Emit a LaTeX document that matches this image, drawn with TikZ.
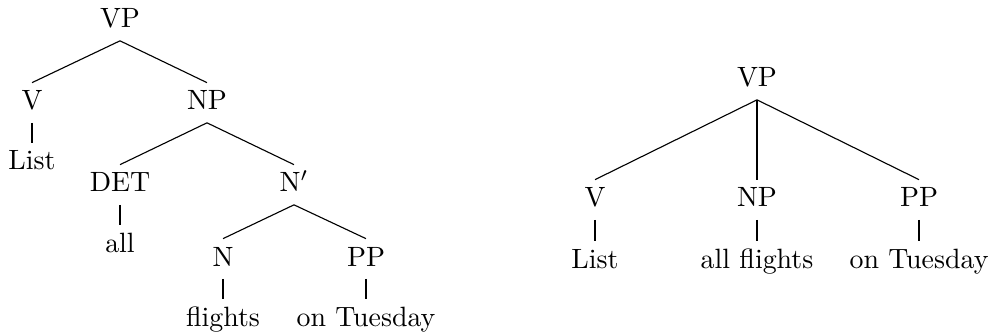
\documentclass[tikz,border=0pt]{standalone}
\begin{document}
\begin{tikzpicture}[x=0.3584pt,y=-0.3584pt,
  lbl/.style={anchor=base,inner xsep=0pt,inner ysep=2.6pt,text height=7pt,text depth=1.8pt,font=\fontsize{10}{12}\selectfont},
  edge/.style={line width=0.4pt}]
\useasboundingbox (0,0) rectangle (993,333);
% left tree
\node[lbl] (lVP) at (120,28) {VP};
\node[lbl] (lV) at (32,110) {V};
\node[lbl] (lNP) at (207,110) {NP};
\node[lbl] (lList) at (32,170) {List};
\node[lbl] (lDET) at (120,192) {DET};
\node[lbl] (lNb) at (294,192) {N$'$};
\node[lbl] (lall) at (120,252) {all};
\node[lbl] (lN) at (223,266) {N};
\node[lbl] (lPP) at (366,266) {PP};
\node[lbl] (lfl) at (223,326) {flights};
\node[lbl] (lonT) at (366,326) {on Tuesday};
\draw[edge] (lVP.south) -- (lV.north);
\draw[edge] (lVP.south) -- (lNP.north);
\draw[edge] (lV.south) -- (lList.north);
\draw[edge] (lNP.south) -- (lDET.north);
\draw[edge] (lNP.south) -- (lNb.north);
\draw[edge] (lDET.south) -- (lall.north);
\draw[edge] (lNb.south) -- (lN.north);
\draw[edge] (lNb.south) -- (lPP.north);
\draw[edge] (lN.south) -- (lfl.north);
\draw[edge] (lPP.south) -- (lonT.north);
% right tree
\node[lbl] (rVP) at (757,87) {VP};
\node[lbl] (rV) at (595,207) {V};
\node[lbl] (rNP) at (757,207) {NP};
\node[lbl] (rPP) at (919,207) {PP};
\node[lbl] (rList) at (595,268) {List};
\node[lbl] (rall) at (757,268) {all flights};
\node[lbl] (ronT) at (919,268) {on Tuesday};
\draw[edge] (rVP.south) -- (rV.north);
\draw[edge] (rVP.south) -- (rNP.north);
\draw[edge] (rVP.south) -- (rPP.north);
\draw[edge] (rV.south) -- (rList.north);
\draw[edge] (rNP.south) -- (rall.north);
\draw[edge] (rPP.south) -- (ronT.north);
\end{tikzpicture}
\end{document}
